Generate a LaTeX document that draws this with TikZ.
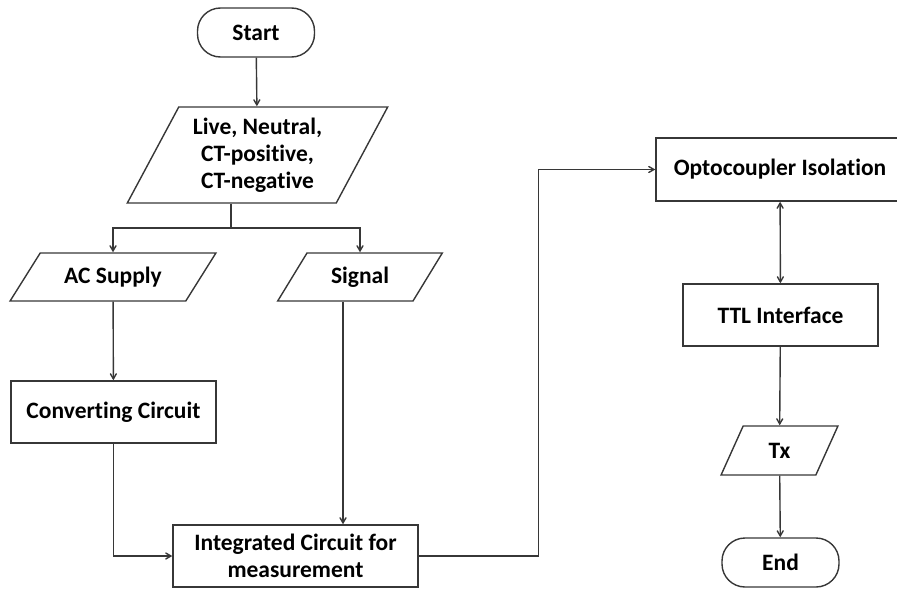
\documentclass[tikz,border=0pt]{standalone}
\usepackage{fontspec}
\setmainfont{Carlito}[Ligatures=NoCommon]
\usepackage{tikz}
\usetikzlibrary{arrows}
\usetikzlibrary{shapes.geometric}
\usetikzlibrary{calc}
\definecolor{linegray}{RGB}{55,55,55}
\tikzset{
 box/.style={draw=linegray, line width=1.4pt, rectangle, align=center, font=\bfseries\fontsize{23.5}{27}\selectfont, minimum height=62pt, inner sep=2pt},
 terminal/.style={box, rounded corners=23pt, minimum height=49pt, minimum width=117pt},
 io/.style={box, trapezium, trapezium stretches=true, minimum height=48pt},
 flow/.style={draw=linegray, line width=1.4pt, ->, >=angle 60},
}

\begin{document}
\begin{tikzpicture}[x=1pt,y=-1pt]
\clip (0,0) rectangle (897,589);
\node[terminal] (start) at (256,32.5) {Start};
\node[io, trapezium left angle=61, trapezium right angle=119, minimum width=261pt, minimum height=96pt] (inputs) at (257.5,155) {Live, Neutral,\\CT-positive,\\CT-negative};
\coordinate (split) at (231,228);
\node[io, trapezium left angle=49, trapezium right angle=131, minimum width=206pt] (acs) at (113,277) {AC Supply};
\node[io, trapezium left angle=55, trapezium right angle=125, minimum width=166pt] (sig) at (360,277) {Signal};
\node[box, minimum width=205pt] (conv) at (113.5,412) {Converting Circuit};
\node[box, minimum width=245pt] (ic) at (295.5,556) {Integrated Circuit for\\measurement};
\node[box, minimum width=248pt, minimum height=63pt] (opto) at (780,169.5) {Optocoupler Isolation};
\node[box, minimum width=195pt] (ttl) at (780.5,315) {TTL Interface};
\node[io, trapezium left angle=68, trapezium right angle=112, minimum width=117pt, minimum height=49pt] (tx) at (779.5,450.5) {Tx};
\node[terminal] (end) at (780.5,562.5) {End};

\draw[flow] (start) -- (inputs);
\draw[linegray, line width=1.4pt] (inputs.south -| split) -- (split);
\draw[flow] (split) -| (acs.north);
\draw[flow] (split) -| (sig.north);
\draw[flow] (acs) -- (conv);
\draw[flow] (conv.south) |- (ic.west);
\draw[flow] ([xshift=-17pt]sig.south) coordinate (sigout) -- (sigout |- ic.north);
\draw[flow] (ic.east) --++(120,0) |- (opto.west);
\draw[flow, <->] (opto) -- (ttl);
\draw[flow] (ttl) -- (tx);
\draw[flow] (tx) -- (end);
\end{tikzpicture}
\end{document}
